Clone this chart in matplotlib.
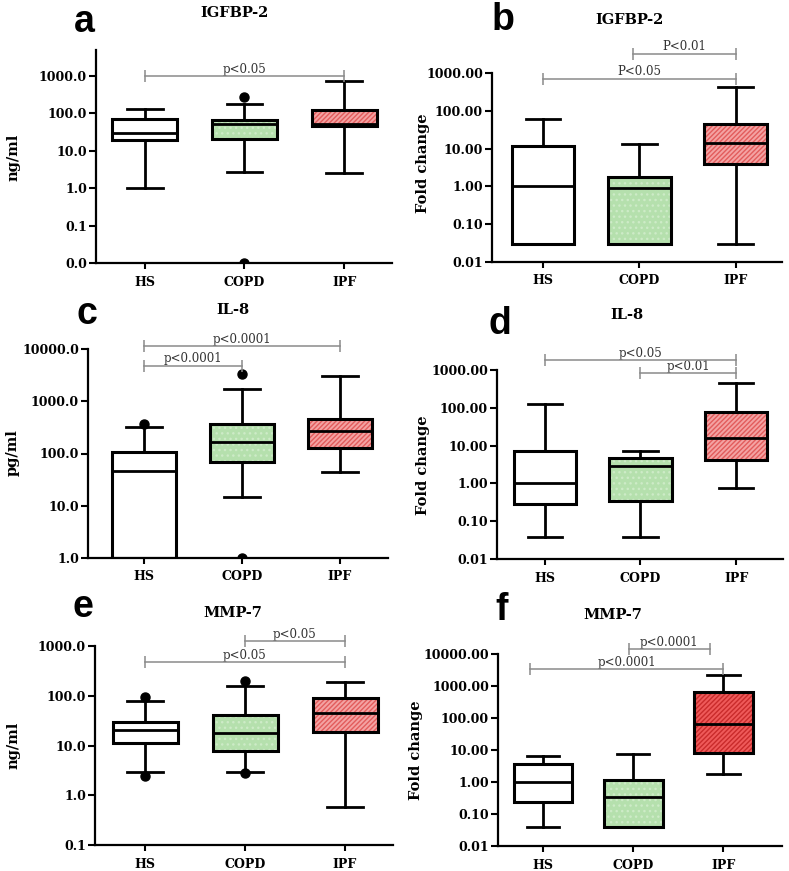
import matplotlib
matplotlib.use("Agg")
import matplotlib.pyplot as plt
from matplotlib.patches import PathPatch
from matplotlib.ticker import FixedLocator, FuncFormatter, NullLocator

# ---------------- data ----------------
groups = ["HS", "COPD", "IPF"]

# panel a: IGFBP-2 ng/ml
a_q1 = [20, 21, 46]
a_med = [31, 51, 54]
a_q3 = [73, 69, 122]
a_lo = [1.0, 2.8, 2.6]
a_hi = [128, 185, 730]
a_fliers = [[], [270, 0.01], []]
a_brackets = [(0, 2, 1000, "p<0.05")]

# panel b: IGFBP-2 fold change
b_q1 = [0.03, 0.03, 3.9]
b_med = [1.0, 0.93, 13.8]
b_q3 = [12, 1.8, 45]
b_lo = [0.03, 0.03, 0.03]
b_hi = [60, 13.3, 430]
b_fliers = [[], [], []]
b_brackets = [(0, 2, 700, "P<0.05"), (0.93, 2, 3200, "P<0.01")]

# panel c: IL-8 pg/ml
c_q1 = [1.0, 68, 128]
c_med = [46, 167, 275]
c_q3 = [105, 375, 460]
c_lo = [1.0, 15, 45]
c_hi = [325, 1700, 3100]
c_fliers = [[375], [3300, 1.0], []]
c_brackets = [(0, 2, 11200, "p<0.0001"), (0, 1, 4800, "p<0.0001")]

# panel d: IL-8 fold change
d_q1 = [0.28, 0.35, 4.1]
d_med = [1.0, 2.8, 15.5]
d_q3 = [7.1, 4.6, 77]
d_lo = [0.038, 0.038, 0.75]
d_hi = [125, 7.1, 450]
d_fliers = [[], [], []]
d_brackets = [(0, 2, 1840, "p<0.05"), (1, 2, 820, "p<0.01")]

# panel e: MMP-7 ng/ml
e_q1 = [11.1, 7.8, 19]
e_med = [20.6, 17.6, 46]
e_q3 = [29, 41, 89]
e_lo = [2.9, 3.0, 0.59]
e_hi = [79, 156, 190]
e_fliers = [[93, 2.4], [200, 2.8], []]
e_brackets = [(1, 2, 1260, "p<0.05"), (0, 2, 470, "p<0.05")]

# panel f: MMP-7 fold change
f_q1 = [0.23, 0.04, 8.3]
f_med = [1.0, 0.35, 66]
f_q3 = [3.7, 1.15, 630]
f_lo = [0.04, 0.04, 1.8]
f_hi = [6.6, 7.3, 2200]
f_fliers = [[], [], []]
f_brackets = [(0.95, 1.85, 14000, "p<0.0001"), (-0.15, 2.0, 3300, "p<0.0001")]

# ---------------- style ----------------
W, H = 789, 871
fig = plt.figure(figsize=(W / 100, H / 100), dpi=100)
plt.rcParams["hatch.linewidth"] = 1.0

SERIF = "DejaVu Serif"

def px(x, y):
    return x / W, 1 - y / H

def make_ax(x0, x1, ytop, ybot):
    l, b = px(x0, ybot)
    return fig.add_axes([l, b, (x1 - x0) / W, (ybot - ytop) / H])

fills = [
    dict(face="white", hatch=None, hcolor="white"),
    dict(face="#b5e0ad", hatch="...", hcolor="#cdebc7"),
    dict(face="#f4a3a3", hatch="///////", hcolor="#e25c5c"),
]
fills_strong = [
    fills[0], fills[1],
    dict(face="#ef5a5a", hatch="///////", hcolor="#c92b2b"),
]

def panel(ax, q1, med, q3, lo, hi, fliers, brackets, yticks, ylim, xlim, fmt,
          fillset=fills):
    stats = []
    for i in range(3):
        stats.append(dict(med=med[i], q1=q1[i], q3=q3[i], whislo=lo[i],
                          whishi=hi[i], fliers=fliers[i], label=groups[i]))
    res = ax.bxp(stats, positions=[0, 1, 2], widths=0.65, patch_artist=True,
                 capwidths=0.36,
                 boxprops=dict(linewidth=0),
                 whiskerprops=dict(color="black", linewidth=2),
                 capprops=dict(color="black", linewidth=2),
                 medianprops=dict(color="black", linewidth=2, zorder=4),
                 flierprops=dict(marker="o", markerfacecolor="black",
                                 markeredgecolor="black", markersize=6.5))
    for box, st in zip(res["boxes"], fillset):
        box.set_facecolor(st["face"])
        box.set_edgecolor(st["hcolor"])
        if st["hatch"]:
            box.set_hatch(st["hatch"])
        box.set_linewidth(0)
        box.set_zorder(2)
        outline = PathPatch(box.get_path(), facecolor="none", edgecolor="black",
                            linewidth=2.2, transform=box.get_transform(), zorder=3)
        ax.add_patch(outline)
    ax.set_yscale("log")
    ax.set_ylim(*ylim)
    ax.set_xlim(*xlim)
    ax.yaxis.set_major_locator(FixedLocator(yticks))
    ax.yaxis.set_minor_locator(NullLocator())
    ax.yaxis.set_major_formatter(FuncFormatter(lambda v, p: fmt.format(v)))
    ax.set_xticks([0, 1, 2])
    ax.set_xticklabels(groups)
    for s in ["top", "right"]:
        ax.spines[s].set_visible(False)
    for s in ["left", "bottom"]:
        ax.spines[s].set_linewidth(1.6)
    ax.tick_params(axis="y", direction="out", length=5, width=1.5, pad=1.5,
                   labelsize=9)
    ax.tick_params(axis="x", direction="out", length=4, width=1.5, pad=5,
                   labelsize=9)
    for t in ax.get_xticklabels() + ax.get_yticklabels():
        t.set_fontfamily(SERIF)
        t.set_fontweight("bold")
    for (x1, x2, y, txt) in brackets:
        ax.plot([x1, x2], [y, y], color="#8a8a8a", lw=1.1, clip_on=False,
                zorder=5)
        ax.plot([x1, x2], [y, y], linestyle="none", marker="|", markersize=8,
                markeredgewidth=1.1, color="#8a8a8a", clip_on=False, zorder=5)
        ax.annotate(txt, xy=((x1 + x2) / 2, y), xytext=(0, 0.3),
                    textcoords="offset points", ha="center", va="bottom",
                    fontsize=8.5, family=SERIF, color="#333333",
                    annotation_clip=False)
    return ax

def fig_text(x, y, s, **kw):
    fx, fy = px(x, y)
    fig.text(fx, fy, s, ha="center", va="center", **kw)

# ---------------- panels ----------------
ax_a = make_ax(96, 392, 50, 263)
panel(ax_a, a_q1, a_med, a_q3, a_lo, a_hi, a_fliers, a_brackets,
      [0.01, 0.1, 1, 10, 100, 1000], (0.01, 5000), (-0.49, 2.48), "{:.1f}")

ax_b = make_ax(492, 782, 73, 262)
panel(ax_b, b_q1, b_med, b_q3, b_lo, b_hi, b_fliers, b_brackets,
      [0.01, 0.1, 1, 10, 100, 1000], (0.01, 1000), (-0.53, 2.48), "{:.2f}")

ax_c = make_ax(88, 388, 349, 558)
panel(ax_c, c_q1, c_med, c_q3, c_lo, c_hi, c_fliers, c_brackets,
      [1, 10, 100, 1000, 10000], (1, 10000), (-0.57, 2.49), "{:.1f}")

ax_d = make_ax(497, 783, 370, 559)
panel(ax_d, d_q1, d_med, d_q3, d_lo, d_hi, d_fliers, d_brackets,
      [0.01, 0.1, 1, 10, 100, 1000], (0.01, 1000), (-0.5, 2.49), "{:.2f}")

ax_e = make_ax(95, 393, 646, 845)
panel(ax_e, e_q1, e_med, e_q3, e_lo, e_hi, e_fliers, e_brackets,
      [0.1, 1, 10, 100, 1000], (0.1, 1000), (-0.5, 2.48), "{:.1f}")

ax_f = make_ax(498, 782, 654, 846)
panel(ax_f, f_q1, f_med, f_q3, f_lo, f_hi, f_fliers, f_brackets,
      [0.01, 0.1, 1, 10, 100, 1000, 10000], (0.01, 10000), (-0.5, 2.65), "{:.2f}",
      fillset=fills_strong)

# titles
tkw = dict(fontsize=10.5, fontweight="bold", family=SERIF)
fig_text(235, 13, "IGFBP-2", **tkw)
fig_text(630, 20, "IGFBP-2", **tkw)
fig_text(233, 310, "IL-8", **tkw)
fig_text(627, 315, "IL-8", **tkw)
fig_text(233, 613, "MMP-7", **tkw)
fig_text(613, 615, "MMP-7", **tkw)

# y labels
ykw = dict(fontsize=10.5, fontweight="bold", family=SERIF, rotation=90)
fig_text(13, 157, "ng/ml", **ykw)
fig_text(423, 163, "Fold change", **ykw)
fig_text(13, 453, "pg/ml", **ykw)
fig_text(423, 465, "Fold change", **ykw)
fig_text(13, 745, "ng/ml", **ykw)
fig_text(416, 750, "Fold change", **ykw)

# panel letters
lkw = dict(fontsize=27, fontweight="bold", family="Liberation Sans")
fig_text(84, 22, "a", **lkw)
fig_text(503, 20, "b", **lkw)
fig_text(87, 314, "c", **lkw)
fig_text(500, 324, "d", **lkw)
fig_text(83, 607, "e", **lkw)
fig_text(502, 610, "f", **lkw)

fig.savefig("out.png", dpi=100)
